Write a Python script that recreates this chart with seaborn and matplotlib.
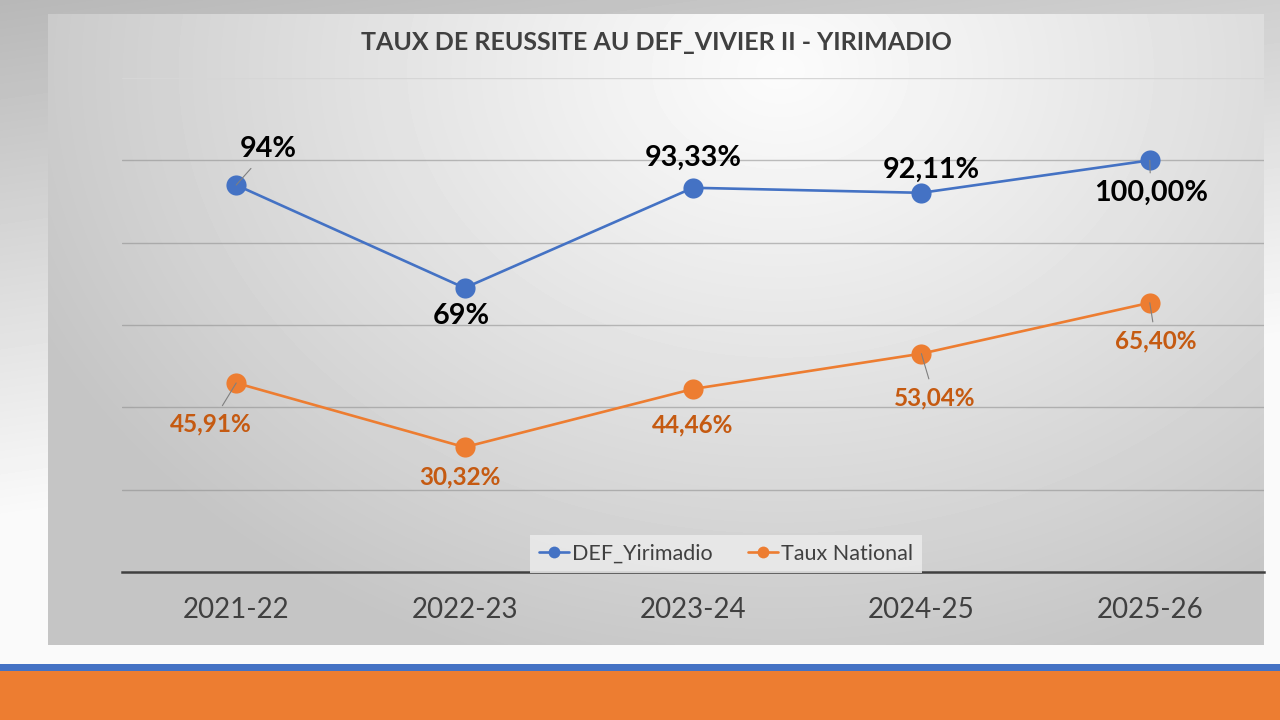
import numpy as np
import pandas as pd
import seaborn as sns
import matplotlib.pyplot as plt
from matplotlib.patches import Rectangle

# data
annees = ["2021-22", "2022-23", "2023-24", "2024-25", "2025-26"]
def_yirimadio = [94.0, 69.0, 93.33, 92.11, 100.0]
taux_national = [45.91, 30.32, 44.46, 53.04, 65.40]
labels_def = ["94%", "69%", "93,33%", "92,11%", "100,00%"]
labels_nat = ["45,91%", "30,32%", "44,46%", "53,04%", "65,40%"]
titre = "TAUX DE REUSSITE AU DEF_VIVIER II - YIRIMADIO"

BLUE = "#4472C4"
ORANGE = "#ED7D31"
ORANGE_TXT = "#C55A11"

df = pd.concat([
    pd.DataFrame({"Annee": annees, "Taux": def_yirimadio, "Serie": "DEF_Yirimadio"}),
    pd.DataFrame({"Annee": annees, "Taux": taux_national, "Serie": "Taux National"}),
])

sns.set_theme(style="white")
plt.rcParams["font.family"] = ["Lato", "DejaVu Sans"]

W, H = 1280, 720
fig = plt.figure(figsize=(12.8, 7.2), dpi=100)

# slide background
bg = fig.add_axes([0, 0, 1, 1])
yy, xx = np.mgrid[0:H, 0:W]
t = np.clip(yy / 520.0 + (xx / W) * 0.35, 0, 1)
v = 0.72 + 0.26 * t
bg.imshow(v, cmap="gray", vmin=0, vmax=1, extent=[0, W, H, 0], aspect="auto")
bg.set_xlim(0, W)
bg.set_ylim(H, 0)
bg.axis("off")

# bottom bars
bg.add_patch(Rectangle((0, 664), W, 8, color=BLUE, lw=0))
bg.add_patch(Rectangle((0, 671), W, 49, color=ORANGE, lw=0))

# chart area with radial gradient
cx0, cy0, cx1, cy1 = 48, 14, 1264, 645
ca = fig.add_axes([cx0 / W, 1 - cy1 / H, (cx1 - cx0) / W, (cy1 - cy0) / H])
gy, gx = np.mgrid[cy0:cy1, cx0:cx1]
d = np.sqrt(((gx - 780) / 1.0) ** 2 + ((gy - 70) * 1.3) ** 2)
tt = np.clip(d / 820.0, 0, 1) ** 1.1
cv = 0.985 - (0.985 - 0.77) * tt
ca.imshow(cv, cmap="gray", vmin=0, vmax=1, aspect="auto")
ca.axis("off")

# plot axes
px0, px1 = 122, 1264
py0, py1 = 78, 572
ax = fig.add_axes([px0 / W, 1 - py1 / H, (px1 - px0) / W, (py1 - py0) / H])
ax.set_facecolor("none")

sns.lineplot(data=df, x="Annee", y="Taux", hue="Serie", palette=[BLUE, ORANGE],
             marker="o", markersize=14.5, markeredgewidth=0, linewidth=1.9,
             sort=False, ax=ax, zorder=3)

ax.set_xlim(-0.5, len(annees) - 0.5)
ax.set_ylim(0, 120)
ax.set_yticks([20, 40, 60, 80, 100, 120])
ax.grid(False)
for g in [20, 40, 60, 80, 100]:
    ax.axhline(g, color="#8c8c8c", lw=1, alpha=0.55, zorder=1)
ax.axhline(120, color="#d6d6d6", lw=1, zorder=1)
ax.set_yticklabels([])
ax.tick_params(axis="y", length=0)
ax.tick_params(axis="x", length=0, pad=18, labelsize=20, labelcolor="#404040")
for s in ["left", "right", "top"]:
    ax.spines[s].set_visible(False)
ax.spines["bottom"].set_color("#404040")
ax.spines["bottom"].set_linewidth(1.8)
ax.set_xlabel("")
ax.set_ylabel("")

# data labels (offsets in pixels)
off_def = [(32, 36), (-3, -28), (0, 30), (10, 23), (1, -33)]
off_nat = [(-25, -41), (-5, -30), (0, -36), (13, -44), (6, -38)]
lead_def = [True, False, False, False, True]
lead_nat = [True, False, False, True, True]

def put_labels(vals, labs, offs, leads, color, size):
    for i, (val, lab, (dx, dy), ld) in enumerate(zip(vals, labs, offs, leads)):
        ap = dict(arrowstyle="-", color="#7f7f7f", lw=0.8, shrinkA=3, shrinkB=0) if ld else None
        ax.annotate(lab, xy=(i, val), xytext=(dx * 0.72, dy * 0.72),
                    textcoords="offset points", ha="center", va="center",
                    fontsize=size, fontweight="bold", color=color,
                    arrowprops=ap, zorder=5)

put_labels(def_yirimadio, labels_def, off_def, lead_def, "black", 20.7)
put_labels(taux_national, labels_nat, off_nat, lead_nat, ORANGE_TXT, 17.5)

# legend
h, l = ax.get_legend_handles_labels()
leg = ax.legend(h, l, loc="center", bbox_to_anchor=((726 - px0) / (px1 - px0), (py1 - 554) / (py1 - py0)),
                ncol=2, fontsize=15.5, frameon=True, facecolor="#ebebeb", edgecolor="none",
                framealpha=0.85, fancybox=False, handlelength=1.4, columnspacing=1.6,
                handletextpad=0.15, borderpad=0.4, borderaxespad=0, labelcolor="#404040")
for lh in leg.get_lines():
    lh.set_markersize(8.5)

# title
fig.text(656 / W, 1 - 43 / H, titre, ha="center", va="center",
         fontsize=18, fontweight="bold", color="#404040")

fig.savefig("out.png", dpi=100)
